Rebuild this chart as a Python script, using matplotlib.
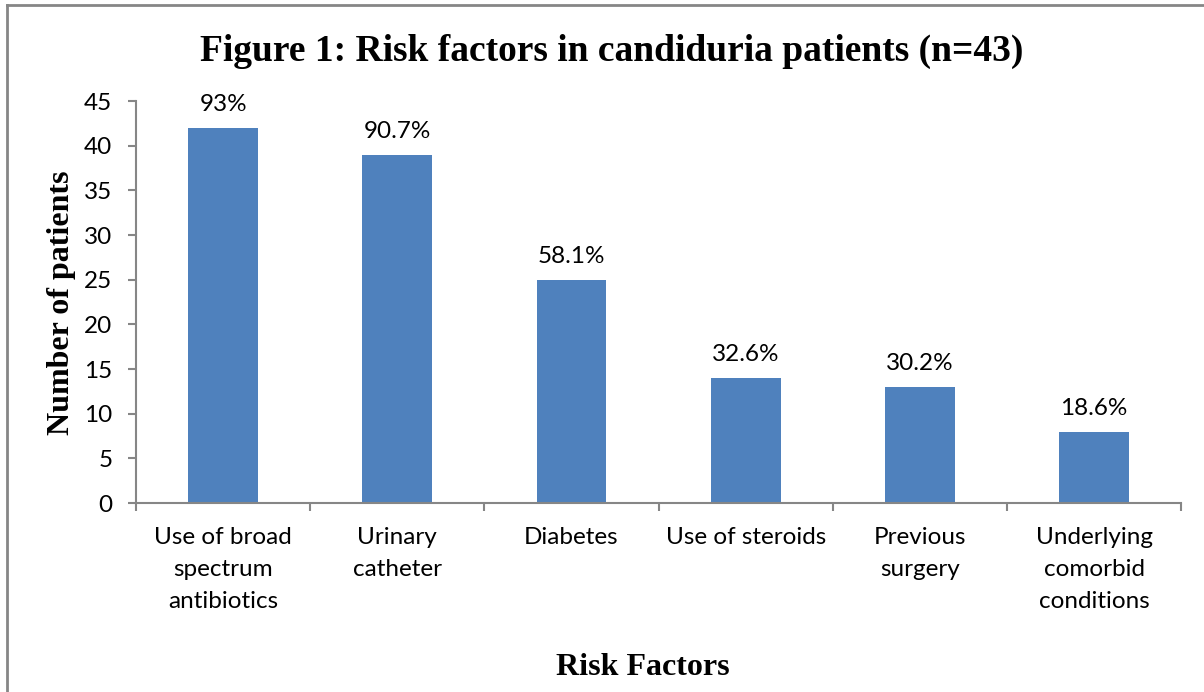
import matplotlib.pyplot as plt
from matplotlib.lines import Line2D

# data
factors = [
    "Use of broad\nspectrum\nantibiotics",
    "Urinary\ncatheter",
    "Diabetes",
    "Use of steroids",
    "Previous\nsurgery",
    "Underlying\ncomorbid\nconditions",
]
patients = [42, 39, 25, 14, 13, 8]
percent_labels = ["93%", "90.7%", "58.1%", "32.6%", "30.2%", "18.6%"]
y_ticks = [0, 5, 10, 15, 20, 25, 30, 35, 40, 45]

BAR = "#4F81BD"
AXIS = "#868686"
SANS = ["Lato", "DejaVu Sans"]
SERIF = ["Liberation Serif", "DejaVu Serif"]
FS = 17.5

fig = plt.figure(figsize=(12.04, 6.92), dpi=100)
ax = fig.add_axes([0.113, 0.273, 0.868, 0.581])

x = list(range(len(factors)))
ax.bar(x, patients, width=0.4, color=BAR, zorder=2)
for xi, v, lab in zip(x, patients, percent_labels):
    ax.text(xi, v + 1.4, lab, ha="center", va="bottom", fontsize=FS, family=SANS)

ax.set_xlim(-0.5, len(factors) - 0.5)
ax.set_ylim(0, 45)
ax.set_yticks(y_ticks)
ax.set_yticklabels([str(t) for t in y_ticks], family=SANS, fontsize=FS)

# category labels between boundary ticks
ax.set_xticks([i - 0.5 for i in range(len(factors) + 1)])
ax.set_xticklabels([])
ax.set_xticks(x, minor=True)
ax.set_xticklabels(factors, minor=True, family=SANS, fontsize=FS, linespacing=1.65,
                   va="top")
ax.tick_params(axis="x", which="minor", length=0, pad=17)
ax.tick_params(axis="x", which="major", length=6, color=AXIS, width=1.5)
ax.tick_params(axis="y", length=6, color=AXIS, width=1.5, pad=11)

for s in ("top", "right"):
    ax.spines[s].set_visible(False)
for s in ("left", "bottom"):
    ax.spines[s].set_color(AXIS)
    ax.spines[s].set_linewidth(1.5)

fig.text(0.508, 0.925, "Figure 1: Risk factors in candiduria patients (n=43)",
         ha="center", va="center", fontsize=27, fontweight="bold", family=SERIF)
fig.text(0.051, 0.563, "Number of patients", rotation=90, ha="center", va="center",
         fontsize=23, fontweight="bold", family=SERIF)
fig.text(0.534, 0.036, "Risk Factors", ha="center", va="center",
         fontsize=23, fontweight="bold", family=SERIF)

# chart frame (only the left and top edges are inside the picture)
fig.add_artist(Line2D([0.0055, 0.0055], [0, 0.993], color=AXIS, lw=2))
fig.add_artist(Line2D([0.0055, 1], [0.993, 0.993], color=AXIS, lw=2))

fig.savefig("out.png", dpi=100)
